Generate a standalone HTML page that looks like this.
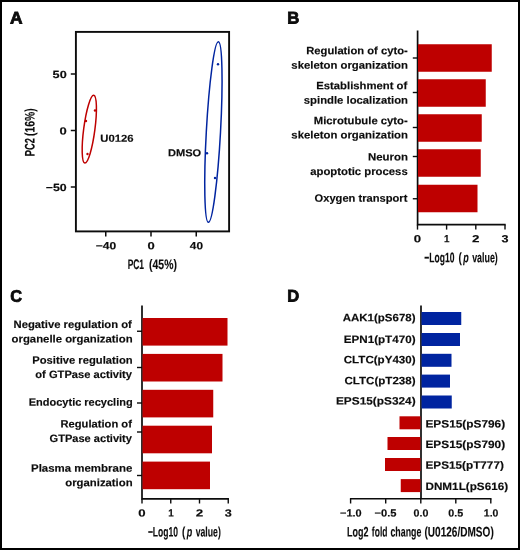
<!DOCTYPE html>
<html><head><meta charset="utf-8"><title>Figure</title>
<style>html,body{margin:0;padding:0;background:#fff}svg{display:block}text{font-family:"Liberation Sans",sans-serif;text-rendering:geometricPrecision}</style>
</head><body>
<svg width="520" height="550" viewBox="0 0 520 550">
<rect x="1" y="1" width="518" height="548" fill="#fff" stroke="#000" stroke-width="2"/>
<text transform="matrix(1 0.001 0 1 0 -0.0163)" x="9.98" y="23.4" font-size="16.7" font-weight="bold" textLength="12.57" lengthAdjust="spacingAndGlyphs" fill="#0c0c0c" stroke="#0c0c0c" stroke-width="0.8">A</text>
<text transform="matrix(1 0.001 0 1 0 -0.2935)" x="287.30" y="23.4" font-size="16.7" font-weight="bold" textLength="12.06" lengthAdjust="spacingAndGlyphs" fill="#0c0c0c" stroke="#0c0c0c" stroke-width="0.8">B</text>
<text transform="matrix(1 0.001 0 1 0 -0.0164)" x="10.33" y="301.7" font-size="16.7" font-weight="bold" textLength="11.82" lengthAdjust="spacingAndGlyphs" fill="#0c0c0c" stroke="#0c0c0c" stroke-width="0.8">C</text>
<text transform="matrix(1 0.001 0 1 0 -0.2935)" x="287.31" y="301.5" font-size="16.7" font-weight="bold" textLength="11.98" lengthAdjust="spacingAndGlyphs" fill="#0c0c0c" stroke="#0c0c0c" stroke-width="0.8">D</text>
<rect x="75.9" y="31.9" width="153.2" height="199.5" fill="none" stroke="#0c0c0c" stroke-width="1.9"/>
<path d="M70.8 74H76" fill="none" stroke="#0c0c0c" stroke-width="1.5"/>
<path d="M70.8 130.5H76" fill="none" stroke="#0c0c0c" stroke-width="1.5"/>
<path d="M70.8 187H76" fill="none" stroke="#0c0c0c" stroke-width="1.5"/>
<path d="M105.75 231.5V236.4" fill="none" stroke="#0c0c0c" stroke-width="1.5"/>
<path d="M151 231.5V236.4" fill="none" stroke="#0c0c0c" stroke-width="1.5"/>
<path d="M196.25 231.5V236.4" fill="none" stroke="#0c0c0c" stroke-width="1.5"/>
<text transform="matrix(1 0.001 0 1 0 -0.0596)" x="52.62" y="78" font-size="10.4" font-weight="bold" textLength="14.09" lengthAdjust="spacingAndGlyphs" fill="#0c0c0c" stroke="#0c0c0c" stroke-width="0.15">50</text>
<text transform="matrix(1 0.001 0 1 0 -0.0631)" x="59.49" y="134.5" font-size="10.4" font-weight="bold" textLength="7.23" lengthAdjust="spacingAndGlyphs" fill="#0c0c0c" stroke="#0c0c0c" stroke-width="0.15">0</text>
<text transform="matrix(1 0.001 0 1 0 -0.0562)" x="45.74" y="191" font-size="10.4" font-weight="bold" textLength="20.95" lengthAdjust="spacingAndGlyphs" fill="#0c0c0c" stroke="#0c0c0c" stroke-width="0.15">−50</text>
<text transform="matrix(1 0.001 0 1 0 -0.1060)" x="95.75" y="249.2" font-size="10.4" font-weight="bold" textLength="20.48" lengthAdjust="spacingAndGlyphs" fill="#0c0c0c" stroke="#0c0c0c" stroke-width="0.15">−40</text>
<text transform="matrix(1 0.001 0 1 0 -0.1511)" x="147.49" y="249.2" font-size="10.4" font-weight="bold" textLength="7.23" lengthAdjust="spacingAndGlyphs" fill="#0c0c0c" stroke="#0c0c0c" stroke-width="0.15">0</text>
<text transform="matrix(1 0.001 0 1 0 -0.1963)" x="189.82" y="249.2" font-size="10.4" font-weight="bold" textLength="13.15" lengthAdjust="spacingAndGlyphs" fill="#0c0c0c" stroke="#0c0c0c" stroke-width="0.15">40</text>
<text transform="matrix(1 0.001 0 1 0 -0.1523)" y="269.0" font-size="13.8" font-weight="bold" fill="#0c0c0c" stroke="#0c0c0c" stroke-width="0.12"><tspan x="127.64" textLength="16.39" lengthAdjust="spacingAndGlyphs">PC1</tspan> <tspan x="149.09" textLength="27.83" lengthAdjust="spacingAndGlyphs">(45%)</tspan></text>
<g transform="translate(34.6 132) rotate(-90)">
<text transform="matrix(1 0.001 0 1 0 0.0003)" y="0" font-size="13.8" font-weight="bold" fill="#0c0c0c" stroke="#0c0c0c" stroke-width="0.12"><tspan x="-24.21" textLength="18.08" lengthAdjust="spacingAndGlyphs">PC2</tspan> <tspan x="-4.01" textLength="27.62" lengthAdjust="spacingAndGlyphs">(16%)</tspan></text>
</g>
<ellipse cx="89.3" cy="129.2" rx="5.6" ry="34.2" transform="rotate(7.5 89.3 129.2)" fill="none" stroke="#BE0000" stroke-width="1.5"/>
<ellipse cx="213.4" cy="132.1" rx="7.1" ry="90.4" transform="rotate(3.16 213.4 132.1)" fill="none" stroke="#0024A0" stroke-width="1.5"/>
<circle cx="95" cy="110.5" r="1.2" fill="#BE0000"/>
<circle cx="86" cy="121" r="1.2" fill="#BE0000"/>
<circle cx="87.5" cy="154" r="1.2" fill="#BE0000"/>
<circle cx="218" cy="64.25" r="1.2" fill="#0024A0"/>
<circle cx="207" cy="153.25" r="1.2" fill="#0024A0"/>
<circle cx="215" cy="178" r="1.2" fill="#0024A0"/>
<text transform="matrix(1 0.001 0 1 0 -0.1171)" x="100.32" y="141.8" font-size="10.1" font-weight="bold" textLength="33.27" lengthAdjust="spacingAndGlyphs" fill="#0c0c0c" stroke="#0c0c0c" stroke-width="0.15">U0126</text>
<text transform="matrix(1 0.001 0 1 0 -0.1847)" x="168.02" y="156.3" font-size="10.1" font-weight="bold" textLength="33.20" lengthAdjust="spacingAndGlyphs" fill="#0c0c0c" stroke="#0c0c0c" stroke-width="0.15">DMSO</text>
<path d="M417.6 30.5V224.7H505.7" fill="none" stroke="#0c0c0c" stroke-width="1.7"/>
<path d="M417.5 224.7V229.6" fill="none" stroke="#0c0c0c" stroke-width="1.4"/>
<path d="M446.6 224.7V229.6" fill="none" stroke="#0c0c0c" stroke-width="1.4"/>
<path d="M475.8 224.7V229.6" fill="none" stroke="#0c0c0c" stroke-width="1.4"/>
<path d="M505 224.7V229.6" fill="none" stroke="#0c0c0c" stroke-width="1.4"/>
<path d="M412.8 58H417.5" fill="none" stroke="#0c0c0c" stroke-width="1.4"/>
<path d="M412.8 92.5H417.5" fill="none" stroke="#0c0c0c" stroke-width="1.4"/>
<path d="M412.8 127.5H417.5" fill="none" stroke="#0c0c0c" stroke-width="1.4"/>
<path d="M412.8 156.5H417.5" fill="none" stroke="#0c0c0c" stroke-width="1.4"/>
<path d="M412.8 198.75H417.5" fill="none" stroke="#0c0c0c" stroke-width="1.4"/>
<rect x="418.00" y="44.25" width="73.75" height="27.5" fill="#BE0000"/>
<rect x="418.00" y="79.25" width="67.75" height="27.5" fill="#BE0000"/>
<rect x="418.00" y="114.25" width="63.75" height="27.5" fill="#BE0000"/>
<rect x="418.00" y="149.25" width="62.75" height="27.5" fill="#BE0000"/>
<rect x="418.00" y="184.75" width="59.50" height="27.5" fill="#BE0000"/>
<text transform="matrix(1 0.001 0 1 0 -0.3571)" x="306.26" y="54.25" font-size="10.7" font-weight="bold" textLength="101.49" lengthAdjust="spacingAndGlyphs" fill="#0c0c0c" stroke="#0c0c0c" stroke-width="0.15">Regulation of cyto-</text>
<text transform="matrix(1 0.001 0 1 0 -0.3495)" x="291.35" y="68.75" font-size="10.7" font-weight="bold" textLength="116.64" lengthAdjust="spacingAndGlyphs" fill="#0c0c0c" stroke="#0c0c0c" stroke-width="0.15">skeleton organization</text>
<text transform="matrix(1 0.001 0 1 0 -0.3621)" x="316.25" y="89.25" font-size="10.7" font-weight="bold" textLength="91.02" lengthAdjust="spacingAndGlyphs" fill="#0c0c0c" stroke="#0c0c0c" stroke-width="0.15">Establishment of</text>
<text transform="matrix(1 0.001 0 1 0 -0.3558)" x="303.85" y="103.75" font-size="10.7" font-weight="bold" textLength="104.14" lengthAdjust="spacingAndGlyphs" fill="#0c0c0c" stroke="#0c0c0c" stroke-width="0.15">spindle localization</text>
<text transform="matrix(1 0.001 0 1 0 -0.3609)" x="313.76" y="124.25" font-size="10.7" font-weight="bold" textLength="93.99" lengthAdjust="spacingAndGlyphs" fill="#0c0c0c" stroke="#0c0c0c" stroke-width="0.15">Microtubule cyto-</text>
<text transform="matrix(1 0.001 0 1 0 -0.3495)" x="291.35" y="138.5" font-size="10.7" font-weight="bold" textLength="116.64" lengthAdjust="spacingAndGlyphs" fill="#0c0c0c" stroke="#0c0c0c" stroke-width="0.15">skeleton organization</text>
<text transform="matrix(1 0.001 0 1 0 -0.3880)" x="368.00" y="160.5" font-size="10.7" font-weight="bold" textLength="40.01" lengthAdjust="spacingAndGlyphs" fill="#0c0c0c" stroke="#0c0c0c" stroke-width="0.15">Neuron</text>
<text transform="matrix(1 0.001 0 1 0 -0.3589)" x="310.17" y="175" font-size="10.7" font-weight="bold" textLength="97.58" lengthAdjust="spacingAndGlyphs" fill="#0c0c0c" stroke="#0c0c0c" stroke-width="0.15">apoptotic process</text>
<text transform="matrix(1 0.001 0 1 0 -0.3611)" x="314.54" y="201.75" font-size="10.7" font-weight="bold" textLength="92.89" lengthAdjust="spacingAndGlyphs" fill="#0c0c0c" stroke="#0c0c0c" stroke-width="0.15">Oxygen transport</text>
<text transform="matrix(1 0.001 0 1 0 -0.4175)" x="413.83" y="242.3" font-size="10.4" font-weight="bold" textLength="7.35" lengthAdjust="spacingAndGlyphs" fill="#0c0c0c" stroke="#0c0c0c" stroke-width="0.15">0</text>
<text transform="matrix(1 0.001 0 1 0 -0.4469)" x="443.99" y="242.3" font-size="10.4" font-weight="bold" textLength="5.48" lengthAdjust="spacingAndGlyphs" fill="#0c0c0c" stroke="#0c0c0c" stroke-width="0.15">1</text>
<text transform="matrix(1 0.001 0 1 0 -0.4758)" x="472.09" y="242.3" font-size="10.4" font-weight="bold" textLength="7.48" lengthAdjust="spacingAndGlyphs" fill="#0c0c0c" stroke="#0c0c0c" stroke-width="0.15">2</text>
<text transform="matrix(1 0.001 0 1 0 -0.5050)" x="501.57" y="242.3" font-size="10.4" font-weight="bold" textLength="7.02" lengthAdjust="spacingAndGlyphs" fill="#0c0c0c" stroke="#0c0c0c" stroke-width="0.15">3</text>
<text transform="matrix(1 0.001 0 1 0 -0.4610)" y="262.3" font-size="13.8" font-weight="bold" fill="#0c0c0c" stroke="#0c0c0c" stroke-width="0.12"><tspan x="424.35" textLength="30.09" lengthAdjust="spacingAndGlyphs">−Log10</tspan> <tspan x="458.42" textLength="3.29" lengthAdjust="spacingAndGlyphs">(</tspan><tspan x="463.20" textLength="5.49" lengthAdjust="spacingAndGlyphs" font-style="italic">p</tspan> <tspan x="472.17" textLength="25.66" lengthAdjust="spacingAndGlyphs">value)</tspan></text>
<path d="M142 305.5V498.8H228.95" fill="none" stroke="#0c0c0c" stroke-width="1.7"/>
<path d="M142 498.8V503.5" fill="none" stroke="#0c0c0c" stroke-width="1.4"/>
<path d="M170.75 498.8V503.5" fill="none" stroke="#0c0c0c" stroke-width="1.4"/>
<path d="M199.5 498.8V503.5" fill="none" stroke="#0c0c0c" stroke-width="1.4"/>
<path d="M228.25 498.8V503.5" fill="none" stroke="#0c0c0c" stroke-width="1.4"/>
<path d="M137 331.25H142" fill="none" stroke="#0c0c0c" stroke-width="1.4"/>
<path d="M137 367.5H142" fill="none" stroke="#0c0c0c" stroke-width="1.4"/>
<path d="M137 403H142" fill="none" stroke="#0c0c0c" stroke-width="1.4"/>
<path d="M137 432H142" fill="none" stroke="#0c0c0c" stroke-width="1.4"/>
<path d="M137 475.5H142" fill="none" stroke="#0c0c0c" stroke-width="1.4"/>
<rect x="142.50" y="318" width="85.00" height="27.6" fill="#BE0000"/>
<rect x="142.50" y="353.9" width="80.00" height="27.6" fill="#BE0000"/>
<rect x="142.50" y="389.8" width="70.75" height="27.6" fill="#BE0000"/>
<rect x="142.50" y="425.7" width="69.50" height="27.6" fill="#BE0000"/>
<rect x="142.50" y="461.6" width="67.50" height="27.6" fill="#BE0000"/>
<text transform="matrix(1 0.001 0 1 0 -0.0731)" x="13.51" y="328" font-size="10.7" font-weight="bold" textLength="118.37" lengthAdjust="spacingAndGlyphs" fill="#0c0c0c" stroke="#0c0c0c" stroke-width="0.15">Negative regulation of</text>
<text transform="matrix(1 0.001 0 1 0 -0.0720)" x="11.56" y="342.5" font-size="10.7" font-weight="bold" textLength="121.05" lengthAdjust="spacingAndGlyphs" fill="#0c0c0c" stroke="#0c0c0c" stroke-width="0.15">organelle organization</text>
<text transform="matrix(1 0.001 0 1 0 -0.0825)" x="32.26" y="363.75" font-size="10.7" font-weight="bold" textLength="100.34" lengthAdjust="spacingAndGlyphs" fill="#0c0c0c" stroke="#0c0c0c" stroke-width="0.15">Positive regulation</text>
<text transform="matrix(1 0.001 0 1 0 -0.0838)" x="35.32" y="378" font-size="10.7" font-weight="bold" textLength="96.64" lengthAdjust="spacingAndGlyphs" fill="#0c0c0c" stroke="#0c0c0c" stroke-width="0.15">of GTPase activity</text>
<text transform="matrix(1 0.001 0 1 0 -0.0807)" x="28.77" y="405.75" font-size="10.7" font-weight="bold" textLength="103.86" lengthAdjust="spacingAndGlyphs" fill="#0c0c0c" stroke="#0c0c0c" stroke-width="0.15">Endocytic recycling</text>
<text transform="matrix(1 0.001 0 1 0 -0.0966)" x="60.51" y="427.5" font-size="10.7" font-weight="bold" textLength="71.37" lengthAdjust="spacingAndGlyphs" fill="#0c0c0c" stroke="#0c0c0c" stroke-width="0.15">Regulation of</text>
<text transform="matrix(1 0.001 0 1 0 -0.0910)" x="49.55" y="442" font-size="10.7" font-weight="bold" textLength="82.41" lengthAdjust="spacingAndGlyphs" fill="#0c0c0c" stroke="#0c0c0c" stroke-width="0.15">GTPase activity</text>
<text transform="matrix(1 0.001 0 1 0 -0.0818)" x="30.99" y="471.75" font-size="10.7" font-weight="bold" textLength="101.30" lengthAdjust="spacingAndGlyphs" fill="#0c0c0c" stroke="#0c0c0c" stroke-width="0.15">Plasma membrane</text>
<text transform="matrix(1 0.001 0 1 0 -0.0988)" x="65.31" y="486.25" font-size="10.7" font-weight="bold" textLength="67.29" lengthAdjust="spacingAndGlyphs" fill="#0c0c0c" stroke="#0c0c0c" stroke-width="0.15">organization</text>
<text transform="matrix(1 0.001 0 1 0 -0.1420)" x="138.33" y="516.6" font-size="10.4" font-weight="bold" textLength="7.35" lengthAdjust="spacingAndGlyphs" fill="#0c0c0c" stroke="#0c0c0c" stroke-width="0.15">0</text>
<text transform="matrix(1 0.001 0 1 0 -0.1711)" x="168.14" y="516.6" font-size="10.4" font-weight="bold" textLength="5.48" lengthAdjust="spacingAndGlyphs" fill="#0c0c0c" stroke="#0c0c0c" stroke-width="0.15">1</text>
<text transform="matrix(1 0.001 0 1 0 -0.1995)" x="195.79" y="516.6" font-size="10.4" font-weight="bold" textLength="7.48" lengthAdjust="spacingAndGlyphs" fill="#0c0c0c" stroke="#0c0c0c" stroke-width="0.15">2</text>
<text transform="matrix(1 0.001 0 1 0 -0.2283)" x="224.82" y="516.6" font-size="10.4" font-weight="bold" textLength="7.02" lengthAdjust="spacingAndGlyphs" fill="#0c0c0c" stroke="#0c0c0c" stroke-width="0.15">3</text>
<text transform="matrix(1 0.001 0 1 0 -0.1843)" y="536.5" font-size="13.8" font-weight="bold" fill="#0c0c0c" stroke="#0c0c0c" stroke-width="0.12"><tspan x="147.90" textLength="30.09" lengthAdjust="spacingAndGlyphs">−Log10</tspan> <tspan x="181.97" textLength="3.29" lengthAdjust="spacingAndGlyphs">(</tspan><tspan x="186.75" textLength="5.49" lengthAdjust="spacingAndGlyphs" font-style="italic">p</tspan> <tspan x="195.72" textLength="25.05" lengthAdjust="spacingAndGlyphs">value)</tspan></text>
<path d="M421 305.5V498.75" fill="none" stroke="#0c0c0c" stroke-width="1.7"/>
<path d="M349.9 498.75H491.5" fill="none" stroke="#0c0c0c" stroke-width="1.7"/>
<path d="M350.6 498.75V503.5" fill="none" stroke="#0c0c0c" stroke-width="1.4"/>
<path d="M385.7 498.75V503.5" fill="none" stroke="#0c0c0c" stroke-width="1.4"/>
<path d="M420.8 498.75V503.5" fill="none" stroke="#0c0c0c" stroke-width="1.4"/>
<path d="M455.8 498.75V503.5" fill="none" stroke="#0c0c0c" stroke-width="1.4"/>
<path d="M490.8 498.75V503.5" fill="none" stroke="#0c0c0c" stroke-width="1.4"/>
<rect x="421.50" y="312" width="39.75" height="13" fill="#0024A0"/>
<rect x="421.50" y="333" width="38.50" height="13" fill="#0024A0"/>
<rect x="421.50" y="353.8" width="30.00" height="13" fill="#0024A0"/>
<rect x="421.50" y="374.6" width="28.50" height="13" fill="#0024A0"/>
<rect x="421.50" y="395.5" width="30.25" height="13" fill="#0024A0"/>
<rect x="399.50" y="416.3" width="21.00" height="13" fill="#BE0000"/>
<rect x="387.50" y="437" width="33.00" height="13" fill="#BE0000"/>
<rect x="385.00" y="458" width="35.50" height="13" fill="#BE0000"/>
<rect x="400.75" y="479.1" width="19.75" height="13" fill="#BE0000"/>
<text transform="matrix(1 0.001 0 1 0 -0.3790)" x="342.72" y="321.25" font-size="10.7" font-weight="bold" textLength="72.84" lengthAdjust="spacingAndGlyphs" fill="#0c0c0c" stroke="#0c0c0c" stroke-width="0.15">AAK1(pS678)</text>
<text transform="matrix(1 0.001 0 1 0 -0.3798)" x="343.73" y="343" font-size="10.7" font-weight="bold" textLength="71.83" lengthAdjust="spacingAndGlyphs" fill="#0c0c0c" stroke="#0c0c0c" stroke-width="0.15">EPN1(pT470)</text>
<text transform="matrix(1 0.001 0 1 0 -0.3796)" x="343.78" y="363.25" font-size="10.7" font-weight="bold" textLength="71.79" lengthAdjust="spacingAndGlyphs" fill="#0c0c0c" stroke="#0c0c0c" stroke-width="0.15">CLTC(pY430)</text>
<text transform="matrix(1 0.001 0 1 0 -0.3800)" x="344.53" y="384.25" font-size="10.7" font-weight="bold" textLength="71.04" lengthAdjust="spacingAndGlyphs" fill="#0c0c0c" stroke="#0c0c0c" stroke-width="0.15">CLTC(pT238)</text>
<text transform="matrix(1 0.001 0 1 0 -0.3759)" x="335.97" y="404.5" font-size="10.7" font-weight="bold" textLength="79.61" lengthAdjust="spacingAndGlyphs" fill="#0c0c0c" stroke="#0c0c0c" stroke-width="0.15">EPS15(pS324)</text>
<text transform="matrix(1 0.001 0 1 0 -0.4654)" x="425.47" y="427.5" font-size="10.7" font-weight="bold" textLength="79.61" lengthAdjust="spacingAndGlyphs" fill="#0c0c0c" stroke="#0c0c0c" stroke-width="0.15">EPS15(pS796)</text>
<text transform="matrix(1 0.001 0 1 0 -0.4654)" x="425.47" y="448" font-size="10.7" font-weight="bold" textLength="79.61" lengthAdjust="spacingAndGlyphs" fill="#0c0c0c" stroke="#0c0c0c" stroke-width="0.15">EPS15(pS790)</text>
<text transform="matrix(1 0.001 0 1 0 -0.4647)" x="425.47" y="468.75" font-size="10.7" font-weight="bold" textLength="78.36" lengthAdjust="spacingAndGlyphs" fill="#0c0c0c" stroke="#0c0c0c" stroke-width="0.15">EPS15(pT777)</text>
<text transform="matrix(1 0.001 0 1 0 -0.4669)" x="425.48" y="490" font-size="10.7" font-weight="bold" textLength="82.59" lengthAdjust="spacingAndGlyphs" fill="#0c0c0c" stroke="#0c0c0c" stroke-width="0.15">DNM1L(pS616)</text>
<text transform="matrix(1 0.001 0 1 0 -0.3509)" x="340.05" y="516.5" font-size="10.4" font-weight="bold" textLength="21.64" lengthAdjust="spacingAndGlyphs" fill="#0c0c0c" stroke="#0c0c0c" stroke-width="0.15">−1.0</text>
<text transform="matrix(1 0.001 0 1 0 -0.3856)" x="374.54" y="516.5" font-size="10.4" font-weight="bold" textLength="22.01" lengthAdjust="spacingAndGlyphs" fill="#0c0c0c" stroke="#0c0c0c" stroke-width="0.15">−0.5</text>
<text transform="matrix(1 0.001 0 1 0 -0.4210)" x="413.58" y="516.5" font-size="10.4" font-weight="bold" textLength="14.85" lengthAdjust="spacingAndGlyphs" fill="#0c0c0c" stroke="#0c0c0c" stroke-width="0.15">0.0</text>
<text transform="matrix(1 0.001 0 1 0 -0.4559)" x="448.33" y="516.5" font-size="10.4" font-weight="bold" textLength="14.96" lengthAdjust="spacingAndGlyphs" fill="#0c0c0c" stroke="#0c0c0c" stroke-width="0.15">0.5</text>
<text transform="matrix(1 0.001 0 1 0 -0.4913)" x="483.85" y="516.5" font-size="10.4" font-weight="bold" textLength="14.57" lengthAdjust="spacingAndGlyphs" fill="#0c0c0c" stroke="#0c0c0c" stroke-width="0.15">1.0</text>
<text transform="matrix(1 0.001 0 1 0 -0.4205)" y="536.5" font-size="13.8" font-weight="bold" fill="#0c0c0c" stroke="#0c0c0c" stroke-width="0.12"><tspan x="347.11" textLength="21.44" lengthAdjust="spacingAndGlyphs">Log2</tspan> <tspan x="371.86" textLength="15.60" lengthAdjust="spacingAndGlyphs">fold</tspan> <tspan x="390.46" textLength="30.84" lengthAdjust="spacingAndGlyphs">change</tspan> <tspan x="424.51" textLength="69.23" lengthAdjust="spacingAndGlyphs">(U0126/DMSO)</tspan></text>
</svg>
</body></html>
